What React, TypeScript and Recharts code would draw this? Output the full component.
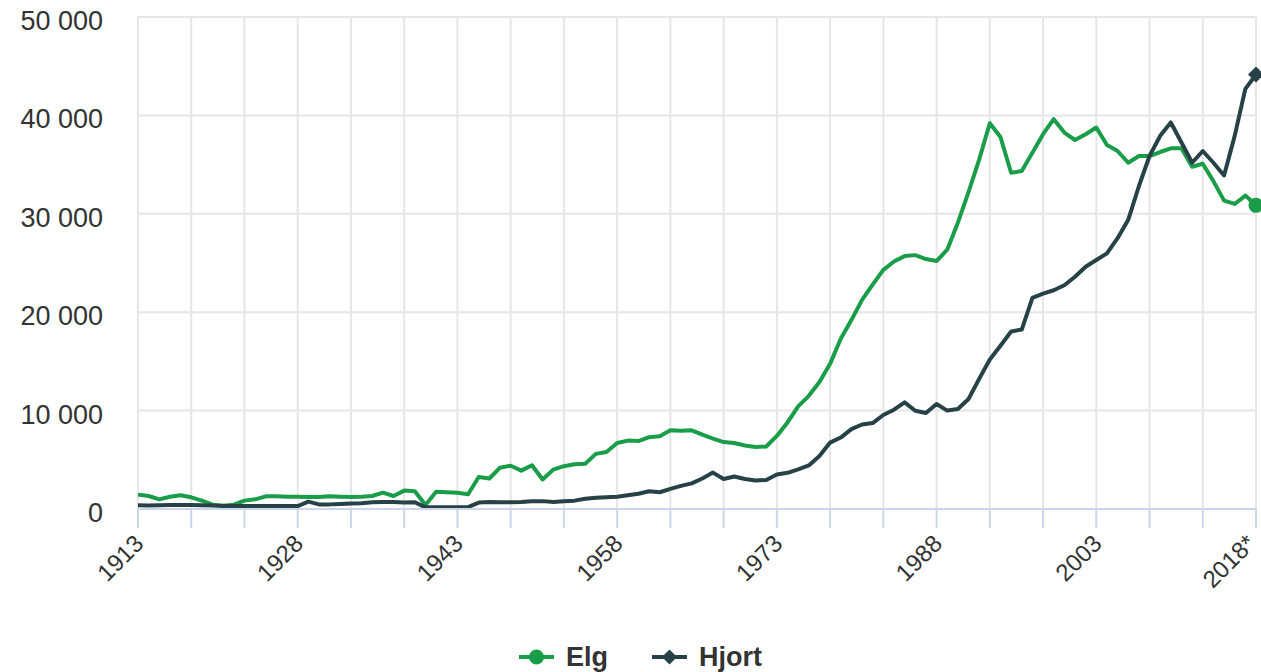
import { CartesianGrid, Line, LineChart, XAxis, YAxis } from 'recharts'

const FIRST_YEAR = 1913

// felte dyr per år, 1913–2018
const elg = [
    1460, 1320, 980, 1250, 1390, 1190, 850, 440, 340, 440,
    850, 980, 1290, 1290, 1250, 1250, 1220, 1220, 1290, 1250,
    1220, 1250, 1320, 1660, 1320, 1870, 1800, 400, 1750, 1700,
    1650, 1500, 3250, 3100, 4200, 4400, 3900, 4450, 3000, 4000,
    4350, 4550, 4600, 5600, 5800, 6700, 6950, 6900, 7300, 7400,
    8000, 7950, 8000, 7550, 7150, 6800, 6700, 6450, 6300, 6350,
    7430, 8800, 10430, 11500, 12900, 14750, 17300, 19200, 21250, 22800,
    24300, 25150, 25700, 25800, 25400, 25200, 26350, 29100, 32200, 35500,
    39200, 37800, 34170, 34340, 36200, 38090, 39620, 38260, 37500, 38090,
    38770, 37000, 36380, 35190, 35870, 35870, 36280, 36660, 36660, 34780,
    35090, 33320, 31340, 31000, 31850, 30860,
]

const hjort = [
    370, 350, 380, 400, 400, 400, 380, 350, 300, 300,
    300, 300, 300, 300, 300, 300, 750, 470, 470, 500,
    550, 580, 680, 720, 720, 650, 680, 170, 180, 180,
    180, 200, 650, 700, 680, 680, 700, 780, 800, 720,
    780, 850, 1050, 1150, 1200, 1250, 1400, 1550, 1800, 1700,
    2050, 2350, 2600, 3100, 3700, 3050, 3300, 3050, 2900, 2950,
    3500, 3680, 4020, 4430, 5390, 6750, 7260, 8120, 8590, 8730,
    9550, 10090, 10840, 9990, 9750, 10670, 10000, 10160, 11180, 13230,
    15200, 16600, 18040, 18240, 21450, 21890, 22230, 22740, 23600, 24620,
    25300, 25980, 27520, 29390, 32800, 35870, 37920, 39280, 37240, 35190,
    36380, 35190, 33900, 37920, 42690, 44160,
]

const gridYears = [
    1913, 1918, 1923, 1928, 1933, 1938, 1943, 1948, 1953, 1958, 1963,
    1968, 1973, 1978, 1983, 1988, 1993, 1998, 2003, 2008, 2013, 2018,
]
const labelYears = [1913, 1928, 1943, 1958, 1973, 1988, 2003, 2018]
const yTicks = [0, 10000, 20000, 30000, 40000, 50000]

const GREEN = '#1a9d49'
const DARK = '#274247'
const FONT = "'Liberation Sans', Arial, sans-serif"

const rows = elg.map((v, i) => ({ year: FIRST_YEAR + i, elg: v, hjort: hjort[i] }))
const last = rows.length - 1

const fmt = (v: number) => String(v).replace(/\B(?=(\d{3})+(?!\d))/g, ' ')

const YTick = ({ x, y, payload }: any) => (
    <text x={x} y={y + 13} textAnchor="end" fill="#333" fontSize={27} fontFamily={FONT}>
        {fmt(payload.value)}
    </text>
)

const XTick = ({ x, y, payload }: any) => {
    if (!labelYears.includes(payload.value)) return <g />
    const isLast = payload.value === 2018
    const label = isLast ? '2018*' : String(payload.value)
    // siste etikett trekkes litt inn så den ikke kuttes i høyre kant
    const dx = isLast ? 1 : 7
    return (
        <text
            transform={`translate(${x + dx}, ${y + 17}) rotate(-45)`}
            textAnchor="end"
            fill="#333"
            fontSize={24}
            fontFamily={FONT}
        >
            {label}
        </text>
    )
}

const circleDot = (p: any) =>
    p.index === last ? (
        <circle key={`e-${p.index}`} cx={p.cx} cy={p.cy} r={7.5} fill={GREEN} />
    ) : (
        <g key={`e-${p.index}`} />
    )

const diamondDot = (p: any) =>
    p.index === last ? (
        <path
            key={`h-${p.index}`}
            d={`M${p.cx},${p.cy - 8} L${p.cx + 8},${p.cy} L${p.cx},${p.cy + 8} L${p.cx - 8},${p.cy} Z`}
            fill={DARK}
        />
    ) : (
        <g key={`h-${p.index}`} />
    )

const LegendItem = ({ color, label, shape }: { color: string; label: string; shape: 'circle' | 'diamond' }) => (
    <div style={{ display: 'flex', alignItems: 'center', marginRight: 44 }}>
        <svg width={35} height={16} style={{ marginRight: 12 }}>
            <line x1={0} y1={8} x2={35} y2={8} stroke={color} strokeWidth={4} />
            {shape === 'circle' ? (
                <circle cx={17.5} cy={8} r={7.5} fill={color} />
            ) : (
                <path d="M17.5,0.5 L25,8 L17.5,15.5 L10,8 Z" fill={color} />
            )}
        </svg>
        <span style={{ fontFamily: FONT, fontWeight: 'bold', fontSize: 27, color: '#333' }}>{label}</span>
    </div>
)

export default function App() {
    return (
        <div style={{ position: 'absolute', left: 0, top: 0, width: 1261, height: 672, background: '#fff' }}>
            <LineChart
                width={1261}
                height={672}
                data={rows}
                margin={{ top: 17, right: 5, bottom: 103, left: 0 }}
            >
                <CartesianGrid stroke="#e6e6e6" strokeWidth={2} />
                <XAxis
                    dataKey="year"
                    type="number"
                    domain={[1913, 2018]}
                    ticks={gridYears}
                    interval={0}
                    height={60}
                    tickSize={19}
                    tickMargin={0}
                    axisLine={{ stroke: '#ccd6eb', strokeWidth: 2 }}
                    tickLine={{ stroke: '#ccd6eb', strokeWidth: 2 }}
                    tick={<XTick />}
                />
                <YAxis
                    width={138}
                    domain={[0, 50000]}
                    ticks={yTicks}
                    interval={0}
                    axisLine={false}
                    tickLine={false}
                    tickSize={0}
                    tickMargin={35}
                    tick={<YTick />}
                />
                <Line
                    type="linear"
                    dataKey="elg"
                    name="Elg"
                    stroke={GREEN}
                    strokeWidth={4}
                    strokeLinejoin="round"
                    dot={circleDot}
                    activeDot={false}
                    isAnimationActive={false}
                />
                <Line
                    type="linear"
                    dataKey="hjort"
                    name="Hjort"
                    stroke={DARK}
                    strokeWidth={4}
                    strokeLinejoin="round"
                    dot={diamondDot}
                    activeDot={false}
                    isAnimationActive={false}
                />
            </LineChart>
            <div style={{ position: 'absolute', left: 519, top: 641, height: 32, display: 'flex', alignItems: 'center' }}>
                <LegendItem color={GREEN} label="Elg" shape="circle" />
                <LegendItem color={DARK} label="Hjort" shape="diamond" />
            </div>
        </div>
    )
}
